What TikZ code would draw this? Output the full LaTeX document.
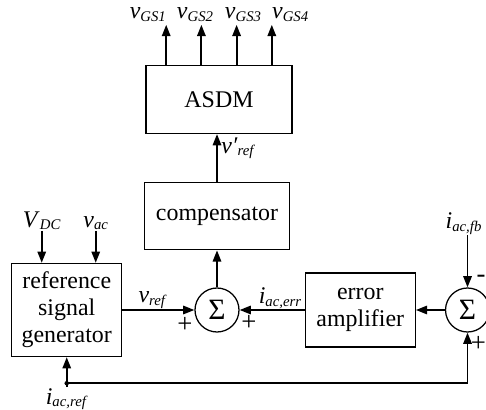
\documentclass[tikz,border=0pt]{standalone}
\usepackage{fontspec}
\setmainfont{Liberation Serif}
\usetikzlibrary{positioning, arrows.meta, calc}

\newcommand{\sigl}[2]{\textit{#1}\raisebox{-0.1em}{\fontsize{10.5}{10.5}\selectfont\textit{#2}}}

\begin{document}
\begin{tikzpicture}[
  font=\fontsize{17}{19.2}\selectfont,
  block/.style={draw, line width=0.9pt, align=center, inner sep=2pt},
  sum/.style={draw, circle, line width=0.9pt, minimum size=1.1cm, inner sep=0pt, font=\fontsize{21}{21}\selectfont},
  sig/.style={inner sep=0.5pt},
  wire/.style={line width=1.3pt},
  sign/.style={font=\fontsize{19}{19}\selectfont},
  >={Triangle[length=2.8mm, width=2.1mm]}
]
\useasboundingbox (0,0) rectangle (12.15,-10.25);
% middle row: generator -> (+) <- amplifier <- (+)
\node[sum] (sum1) at (5.425,-7.75) {Σ};
\node[block, minimum width=2.75cm, minimum height=2.33cm, left=1.8cm of sum1] (refgen) {reference\\signal\\generator};
\node[block, minimum width=2.75cm, minimum height=1.85cm, right=1.625cm of sum1] (erramp) {error\\amplifier};
\node[sum, right=0.725cm of erramp] (sum2) {Σ};
% column above the first sum
\node[block, minimum width=3.63cm, minimum height=1.675cm, above=0.925cm of sum1] (comp) {compensator};
\node[block, minimum width=3.65cm, minimum height=1.7cm, above=1.2cm of comp, xshift=0.05cm] (asdm) {ASDM};
% gate signals out of the ASDM
\foreach \i/\dx/\lx in {1/-1.32/-1.78, 2/-0.44/-0.6, 3/0.44/0.6, 4/1.32/1.78} {
  \coordinate (out\i) at ($(asdm.north)+(\dx,1.0)$);
  \draw[wire, ->] (out\i |- asdm.north) -- (out\i);
  \node[sig, anchor=base] (gs\i) at ($(asdm.north)+(\lx,1.15)$) {\sigl{v}{GS\i}};
}
% inputs of the generator
\node[sig, above=0.8cm of refgen.north, xshift=-0.625cm] (vdc) {\sigl{V}{DC}};
\node[sig, above=0.8cm of refgen.north, xshift=0.725cm] (vac) {\sigl{v}{ac}};
\draw[wire, ->] (vdc) -- (vdc |- refgen.north);
\draw[wire, ->] (vac) -- (vac |- refgen.north);
% forward path
\draw[wire, ->] (refgen) -- node[sig, above, pos=0.42]{\sigl{v}{ref}} (sum1);
\draw[wire, ->] (erramp) -- node[sig, above, pos=0.38]{\sigl{i}{ac,err}} (sum1);
\draw[wire, ->] (sum2) -- (erramp);
\draw[wire, ->] (sum1) -- (comp);
\draw[wire, ->] (comp) -- node[sig, right, pos=0.7, xshift=2pt]{\sigl{v′}{ref}} (comp |- asdm.south);
% current feedback and reference
\node[sig, above=1.3cm of sum2, xshift=-0.1cm] (iacfb) {\sigl{i}{ac,fb}};
\draw[wire, ->] (sum2 |- iacfb.south) -- (sum2);
\node[sig, below=0.75cm of refgen] (iacref) {\sigl{i}{ac,ref}};
\draw[wire, ->] (iacref) -- (refgen);
\coordinate (junc) at ($(refgen.south)+(0,-0.65)$);
\fill (junc) circle (1.6pt);
\draw[wire, ->] (junc) -| (sum2.south);
% signs at the sums
\node[sign] at ($(sum1)+(-0.8,-0.37)$) {+};
\node[sign] at ($(sum1)+(0.8,-0.33)$) {+};
\node[sign] at ($(sum2)+(0.34,0.79)$) {-};
\node[sign] at ($(sum2)+(0.27,-0.85)$) {+};
\end{tikzpicture}
\end{document}
